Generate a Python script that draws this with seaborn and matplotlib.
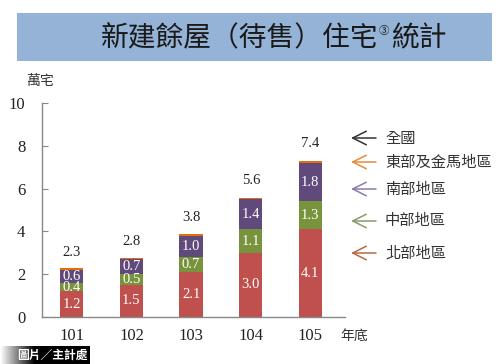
import matplotlib
matplotlib.use("Agg")
from matplotlib import pyplot as plt
from matplotlib.patches import Rectangle
import numpy as np
import pandas as pd
import seaborn as sns

years = ["101", "102", "103", "104", "105"]
north = [1.2, 1.5, 2.1, 3.0, 4.1]
central = [0.4, 0.5, 0.7, 1.1, 1.3]
south = [0.6, 0.7, 1.0, 1.4, 1.8]
east = [0.08, 0.08, 0.06, 0.08, 0.1]
total = [2.3, 2.8, 3.8, 5.6, 7.4]

region_names = ["北部地區", "中部地區", "南部地區", "東部及金馬地區"]
region_colors = ["#c0504d", "#77933c", "#604a7b", "#e46c0a"]
legend_labels = ["全國", "東部及金馬地區", "南部地區", "中部地區", "北部地區"]
legend_colors = ["#333333", "#e8893a", "#8a7bb0", "#8a9a6a", "#b8683f"]

sns.set_style("white")
plt.rcParams["font.family"] = ["Liberation Serif", "Noto Sans CJK TC", "DejaVu Sans"]
cjk = ["Noto Sans CJK TC", "DejaVu Sans"]

df = pd.DataFrame({"year": years, "北部地區": north, "中部地區": central,
                   "南部地區": south, "東部及金馬地區": east, "total": total})

fig = plt.figure(figsize=(5, 3.64), dpi=100)
W, H = 500, 364

# title banner
fig.patches.append(Rectangle((17 / W, 1 - 61 / H), 475 / W, 48 / H, transform=fig.transFigure,
                             facecolor="#95b3d7", edgecolor="none", zorder=0))
fig.text(378 / W, 1 - 38 / H, "新建餘屋（待售）住宅", ha="right", va="center",
         fontsize=20, color="#1a1a1a", family=cjk)
fig.text(379 / W, 1 - 31 / H, "③", ha="left", va="center", fontsize=7.5, color="#1a1a1a",
         family=cjk)
fig.text(391 / W, 1 - 38 / H, "統計", ha="left", va="center", fontsize=20, color="#1a1a1a",
         family=cjk)

ax = fig.add_axes([42 / W, 1 - 317 / H, (345 - 42) / W, (317 - 103) / H])

bottom = np.zeros(len(years))
for name, color in zip(region_names, region_colors):
    vals = df[name].to_numpy()
    sns.barplot(data=df, x="year", y=name, color=color, width=0.39, bottom=bottom,
                saturation=1, ax=ax, linewidth=0)
    if name != "東部及金馬地區":
        for i, v in enumerate(vals):
            ax.text(i, bottom[i] + v / 2, f"{v:.1f}", ha="center", va="center",
                    color="white", fontsize=10.5)
    bottom = bottom + vals

for i, t in enumerate(total):
    ax.text(i, bottom[i] + 0.75 + 0.02 * i, f"{t:.1f}", ha="center", va="center",
            color="#222222", fontsize=10.5)

ax.set_xlim(-0.5, 4.58)
ax.set_ylim(0, 10)
ax.set_yticks([0, 2, 4, 6, 8, 10])
ax.set_xlabel("")
ax.set_ylabel("")
ax.set_xticks(range(len(years)))
ax.set_xticklabels(years)
ax.set_xticks(np.arange(-0.5, 4.6, 1.0), minor=True)
ax.tick_params(axis="x", which="major", length=0, pad=8, labelsize=12, colors="#222222")
ax.tick_params(axis="x", which="minor", direction="in", length=4, color="#888888")
ax.tick_params(axis="y", direction="in", length=4, pad=12, labelsize=12, color="#888888",
               labelcolor="#222222", left=True)
for s in ["top", "right"]:
    ax.spines[s].set_visible(False)
for s in ["left", "bottom"]:
    ax.spines[s].set_color("#888888")
    ax.spines[s].set_linewidth(1)

fig.text(40 / W, 1 - 81 / H, "萬宅", ha="center", va="center", fontsize=10,
         color="#333333", family=cjk)
fig.text(354 / W, 1 - 336 / H, "年底", ha="center", va="center", fontsize=10,
         color="#333333", family=cjk)

# arrow legend
legend_y = [138, 162, 189, 221, 253]
for label, color, y in zip(legend_labels, legend_colors, legend_y):
    ax.annotate("", xy=(351 / W, 1 - y / H), xytext=(376 / W, 1 - y / H),
                xycoords="figure fraction", textcoords="figure fraction",
                arrowprops=dict(arrowstyle="->,head_length=0.7,head_width=0.35",
                                color=color, lw=1.1, mutation_scale=14,
                                shrinkA=0, shrinkB=0))
    fig.text(385 / W, 1 - y / H, label, ha="left", va="center", fontsize=11,
             color="#333333", family=cjk)

# source tag
tag = fig.add_axes([0, 0, 90 / W, 18 / H])
grad = np.clip(np.linspace(1.0, -1.6, 90), 0, 1)
tag.imshow(np.tile(grad, (2, 1)), cmap="gray", vmin=0, vmax=1, aspect="auto",
           extent=[0, 90, 0, 18])
tag.set_axis_off()
tag.text(52, 9, "圖片／主計處", ha="center", va="center", color="white", fontsize=8.5,
         fontweight="bold", family=cjk)

fig.savefig("out.png", dpi=100)
